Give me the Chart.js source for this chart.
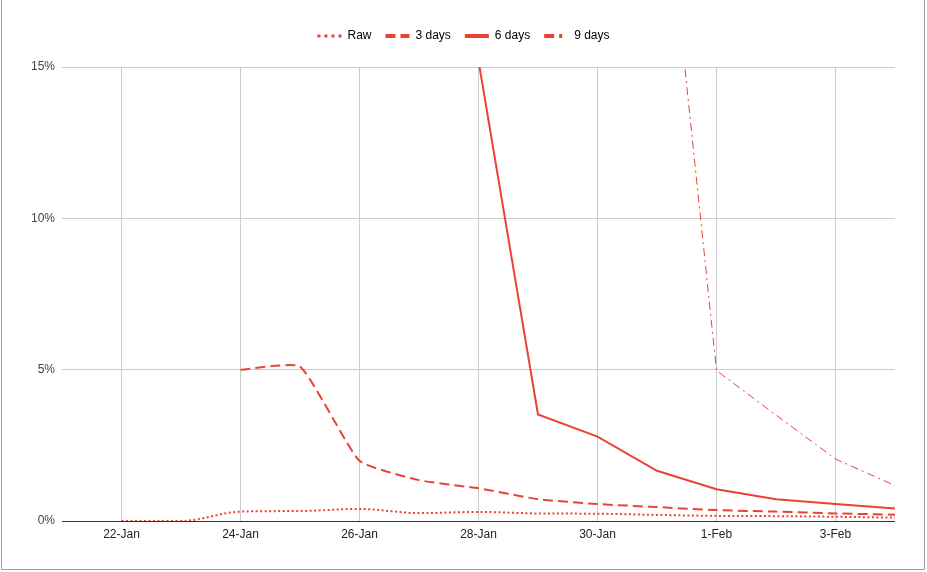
<!DOCTYPE html>
<html>
<head>
<meta charset="utf-8">
<script src="https://cdn.jsdelivr.net/npm/chart.js@4.4.1/dist/chart.umd.min.js"></script>
<style>
  html, body { margin: 0; padding: 0; background: #fff; }
  #wrap { width: 927px; height: 572px; position: relative; }
</style>
</head>
<body>
<div id="wrap"><canvas id="chart" width="927" height="572"></canvas></div>
<script>
// categories (21-Jan is an empty leading slot)
const days = ['21-Jan', '22-Jan', '23-Jan', '24-Jan', '25-Jan', '26-Jan', '27-Jan', '28-Jan',
              '29-Jan', '30-Jan', '31-Jan', '1-Feb', '2-Feb', '3-Feb', '4-Feb'];
const shownDays = ['22-Jan', '24-Jan', '26-Jan', '28-Jan', '30-Jan', '1-Feb', '3-Feb'];

// values in percent
const raw = [null, 0, 0, 0.31, 0.33, 0.40, 0.26, 0.30, 0.25, 0.24, 0.20, 0.17, 0.16, 0.14, 0.11];
const avg3 = [null, null, null, 5.0, 5.1, 1.99, 1.35, 1.08, 0.72, 0.56, 0.46, 0.36, 0.31, 0.25, 0.21];
const avg6 = [null, null, null, null, null, null, null, 15.2, 3.52, 2.79, 1.66, 1.05, 0.72, 0.56, 0.41];
const avg9 = [null, null, null, null, null, null, null, null, null, null, 23.8, 4.97, 3.5, 2.05, 1.17];

const yTicks = [0, 5, 10, 15];

const red = '#ea4335';
const font = { family: 'Arial, "Liberation Sans", sans-serif', size: 12 };

const legendStyles = [
  { dash: [3, 4], width: 3 },
  { dash: [10, 5], width: 4 },
  { dash: [], width: 4 },
  { dash: [10, 5, 3, 6], width: 4 }
];

const framePlugin = {
  id: 'frame',
  afterDraw(chart) {
    const ctx = chart.ctx;
    ctx.save();
    ctx.strokeStyle = '#9e9e9e';
    ctx.lineWidth = 1;
    ctx.beginPath();
    ctx.moveTo(1.5, 0);
    ctx.lineTo(1.5, 569.5);
    ctx.lineTo(924.5, 569.5);
    ctx.lineTo(924.5, 0);
    ctx.stroke();
    ctx.restore();
  }
};

new Chart(document.getElementById('chart'), {
  type: 'line',
  data: {
    labels: days,
    datasets: [
      { label: 'Raw', data: raw, borderColor: red, backgroundColor: red, borderWidth: 2,
        borderDash: [2, 2.5], cubicInterpolationMode: 'monotone', pointRadius: 0 },
      { label: '3 days', data: avg3, borderColor: red, backgroundColor: red, borderWidth: 2,
        borderDash: [10, 5], tension: 0.15, pointRadius: 0 },
      { label: '6 days', data: avg6, borderColor: red, backgroundColor: red, borderWidth: 2,
        tension: 0, pointRadius: 0 },
      { label: '9 days', data: avg9, borderColor: red, backgroundColor: red, borderWidth: 1,
        borderDash: [8, 4, 2, 4], tension: 0, pointRadius: 0 }
    ]
  },
  options: {
    responsive: false,
    animation: false,
    layout: { padding: { top: 16, right: 32, bottom: 20, left: 32 } },
    plugins: {
      tooltip: { enabled: false },
      // empty spacer between legend and plot
      subtitle: {
        display: true,
        text: ' ',
        weight: 500,
        font: { size: 10, lineHeight: 1 },
        padding: { top: 0, bottom: 5 }
      },
      legend: {
        position: 'top',
        align: 'center',
        labels: {
          font: font,
          color: '#222',
          usePointStyle: true,
          pointStyleWidth: 24,
          boxWidth: 24,
          padding: 14,
          generateLabels(chart) {
            return chart.data.datasets.map((ds, i) => ({
              text: ds.label,
              strokeStyle: red,
              fillStyle: red,
              lineWidth: legendStyles[i].width,
              lineDash: legendStyles[i].dash,
              pointStyle: 'line',
              datasetIndex: i
            }));
          }
        }
      }
    },
    scales: {
      x: {
        offset: false,
        border: { display: false },
        grid: {
          drawTicks: false,
          color: (c) => (c.tick && shownDays.includes(days[c.index]) ? '#cccccc' : 'rgba(0,0,0,0)')
        },
        ticks: {
          autoSkip: false,
          maxRotation: 0,
          padding: 6,
          font: font,
          color: '#222',
          callback: (v, i) => (shownDays.includes(days[i]) ? days[i] : '')
        },
        afterFit(scale) { scale.height = 31; }
      },
      y: {
        min: 0,
        max: 15,
        border: { display: false },
        grid: {
          drawTicks: false,
          color: (c) => (c.tick && c.tick.value === 0 ? '#333333' : '#cccccc')
        },
        ticks: {
          padding: 7,
          font: font,
          color: '#444',
          callback: (v) => v + '%'
        },
        afterBuildTicks(scale) { scale.ticks = yTicks.map(v => ({ value: v })); },
        afterFit(scale) { scale.width = 30; }
      }
    }
  },
  plugins: [framePlugin]
});
</script>
</body>
</html>
